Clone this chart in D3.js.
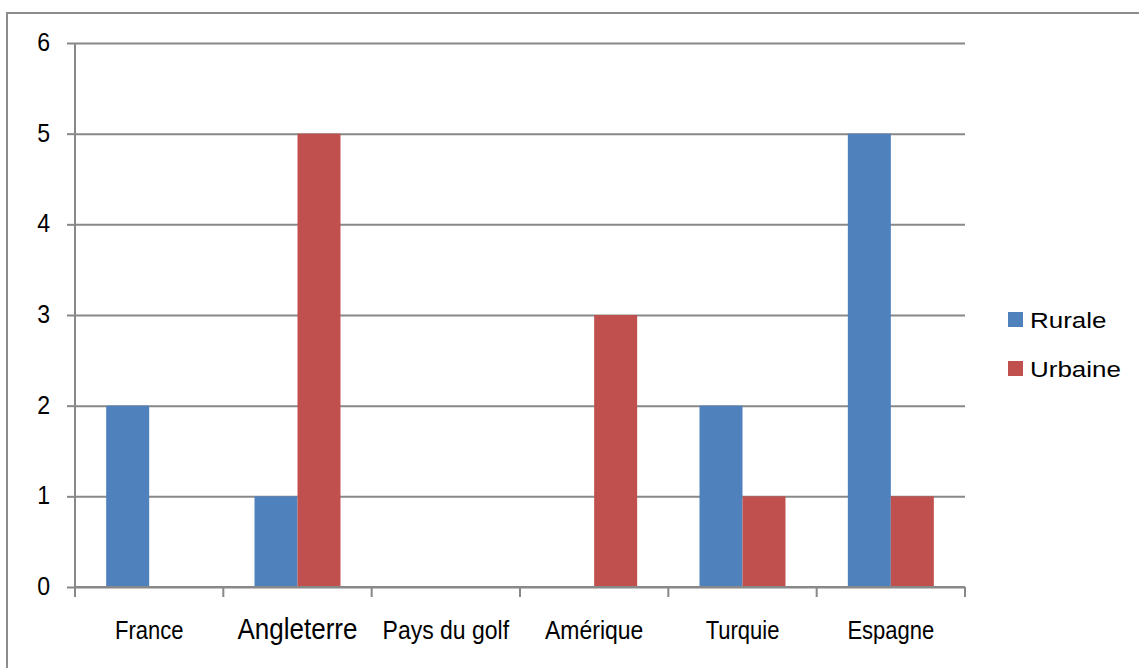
<!DOCTYPE html>
<html>
<head>
<meta charset="utf-8">
<script src="https://cdn.jsdelivr.net/npm/d3@7"></script>
<style>
  html, body { margin: 0; padding: 0; background: #fff; }
  svg { display: block; }
  text { font-family: "Liberation Sans", Arial, sans-serif; fill: #000; }
</style>
</head>
<body>
<svg id="chart" width="1139" height="668"></svg>
<script>
// Countries on the x axis
const categories = ["France", "Angleterre", "Pays du golf", "Amérique", "Turquie", "Espagne"];
// Series
const seriesNames = ["Rurale", "Urbaine"];
const rurale = [2, 1, 0, 0, 2, 5];
const urbaine = [0, 5, 0, 3, 1, 1];
const yTicks = [0, 1, 2, 3, 4, 5, 6];
const colors = ["#4F81BD", "#C0504D"];

const svg = d3.select("#chart");
const W = 1139, H = 668;
const plot = { left: 75, right: 965, top: 43, bottom: 587 };
const gridColor = "#888888";
const textScaleY = 1.13;

// outer frame
svg.append("rect")
  .attr("x", 7).attr("y", 13)
  .attr("width", W + 10).attr("height", H + 10)
  .attr("fill", "none").attr("stroke", "#8c8c8c").attr("stroke-width", 2);

const x = d3.scaleBand().domain(categories).range([plot.left, plot.right]).paddingInner(0).paddingOuter(0);
const inner = d3.scaleBand().domain(seriesNames).range([0, x.bandwidth()]).paddingInner(0).paddingOuter(0.725);
const y = d3.scaleLinear().domain([0, 6]).range([plot.bottom, plot.top]);

// horizontal gridlines + y ticks
const yAxis = d3.axisLeft(y).tickValues(yTicks).tickSize(8).tickPadding(0).tickFormat(d3.format("d"));
const gy = svg.append("g").attr("transform", `translate(${plot.left},0)`).call(yAxis);
gy.select(".domain").remove();
gy.selectAll(".tick line").attr("stroke", gridColor).attr("stroke-width", 2);
gy.selectAll(".tick text").remove();
gy.selectAll(".tick").append("line")
  .attr("x1", 0).attr("x2", plot.right - plot.left)
  .attr("stroke", gridColor).attr("stroke-width", 2);

// y tick labels
svg.append("g").selectAll("text").data(yTicks).join("text")
  .attr("text-anchor", "end")
  .attr("font-size", 22)
  .attr("transform", d => `translate(50,${y(d) + 8}) scale(1.05,${textScaleY})`)
  .text(d => d);

// bars
const data = categories.map((c, i) => ({ c, vals: [rurale[i], urbaine[i]] }));
const groups = svg.append("g").selectAll("g").data(data).join("g")
  .attr("transform", d => `translate(${x(d.c)},0)`);
groups.selectAll("rect").data(d => d.vals.map((v, j) => ({ v, s: seriesNames[j], j })))
  .join("rect")
  .attr("x", d => inner(d.s))
  .attr("width", inner.bandwidth())
  .attr("y", d => y(d.v))
  .attr("height", d => y(0) - y(d.v))
  .attr("fill", d => colors[d.j]);

// y axis line
svg.append("line")
  .attr("x1", plot.left).attr("x2", plot.left)
  .attr("y1", plot.top).attr("y2", plot.bottom + 10)
  .attr("stroke", gridColor).attr("stroke-width", 2);

// x axis with ticks at category boundaries
const xAxisLine = svg.append("g");
xAxisLine.append("line")
  .attr("x1", plot.left).attr("x2", plot.right)
  .attr("y1", plot.bottom).attr("y2", plot.bottom)
  .attr("stroke", gridColor).attr("stroke-width", 2);
const boundaries = categories.map(c => x(c)).concat([x(categories[categories.length - 1]) + x.bandwidth()]);
xAxisLine.selectAll("line.t").data(boundaries).join("line").attr("class", "t")
  .attr("x1", d => d).attr("x2", d => d)
  .attr("y1", plot.bottom).attr("y2", plot.bottom + 10)
  .attr("stroke", gridColor).attr("stroke-width", 2);

// category labels
svg.append("g").selectAll("text").data(categories).join("text")
  .attr("text-anchor", "middle")
  .attr("font-size", d => d === "Angleterre" ? 26 : (d === "Pays du golf" || d === "Amérique" ? 23 : 22))
  .attr("transform", d => `translate(${x(d) + x.bandwidth() / 2},639) scale(1,${textScaleY})`)
  .text(d => d);

// legend
const legend = svg.append("g");
seriesNames.forEach((name, i) => {
  const ly = 312 + i * 49;
  legend.append("rect").attr("x", 1008).attr("y", ly).attr("width", 15).attr("height", 15).attr("fill", colors[i]);
  legend.append("text")
    .attr("font-size", 22)
    .attr("transform", `translate(1030,${ly + 16}) scale(1.18,1.02)`)
    .text(name);
});
</script>
</body>
</html>
